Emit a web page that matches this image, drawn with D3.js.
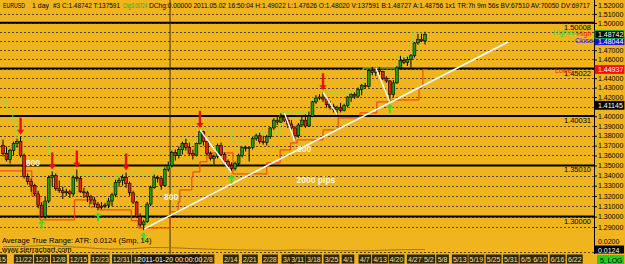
<!DOCTYPE html>
<html>
<head>
<meta charset="utf-8">
<script src="https://cdn.jsdelivr.net/npm/d3@7"></script>
<style>
  body { margin: 0; background: #F0B41E; }
  svg { display: block; }
  text { font-family: "Liberation Sans", Arial, sans-serif; }
</style>
</head>
<body>
<svg id="chart" width="625" height="264"></svg>
<script>
// EURUSD daily bars, 2010-11-15 .. 2011-05-02 (bar index 0..120)
const opens = [
  1.3700,1.3620,1.3560,1.3650,1.3720,1.3740,1.3600,1.3390,1.3340,1.3300,1.3220,1.3110,
  1.3000,1.3150,1.3380,1.3400,1.3270,1.3250,1.3230,1.3240,1.3220,1.3380,1.3370,1.3240,
  1.3230,1.3190,1.3160,1.3120,1.3090,1.3100,1.3110,1.3150,1.3210,1.3330,1.3350,1.3380,
  1.3320,1.3230,1.3140,1.3000,1.2920,1.2950,1.3120,1.3280,1.3380,1.3370,1.3300,1.3460,
  1.3500,1.3630,1.3600,1.3660,1.3720,1.3680,1.3620,1.3600,1.3720,1.3840,1.3740,1.3620,
  1.3570,1.3590,1.3700,1.3610,1.3540,1.3500,1.3470,1.3520,1.3600,1.3680,1.3670,1.3680,
  1.3770,1.3800,1.3740,1.3730,1.3790,1.3880,1.3960,1.3940,1.3990,1.3960,1.3920,1.3880,
  1.3800,1.3910,1.3960,1.3900,1.4000,1.4150,1.4190,1.4200,1.4180,1.4120,1.4100,1.4070,
  1.4090,1.4060,1.4110,1.4200,1.4230,1.4210,1.4280,1.4320,1.4310,1.4480,1.4460,1.4490,
  1.4470,1.4400,1.4370,1.4230,1.4350,1.4510,1.4590,1.4570,1.4600,1.4640,1.4780,1.4820,
  1.48020
];
const highs = [
  1.3760,1.3690,1.3670,1.3740,1.3770,1.3790,1.3620,1.3420,1.3370,1.3320,1.3250,1.3140,
  1.3190,1.3400,1.3440,1.3420,1.3350,1.3290,1.3270,1.3260,1.3400,1.3460,1.3390,1.3280,
  1.3250,1.3210,1.3190,1.3140,1.3140,1.3130,1.3180,1.3230,1.3360,1.3380,1.3410,1.3430,
  1.3340,1.3250,1.3150,1.3030,1.2970,1.3140,1.3300,1.3410,1.3400,1.3390,1.3480,1.3540,
  1.3650,1.3660,1.3690,1.3740,1.3770,1.3730,1.3660,1.3730,1.3860,1.3850,1.3750,1.3640,
  1.3610,1.3720,1.3730,1.3630,1.3560,1.3530,1.3540,1.3620,1.3690,1.3700,1.3690,1.3790,
  1.3820,1.3830,1.3800,1.3810,1.3890,1.3980,1.3990,1.4030,1.4035,1.3990,1.3960,1.3900,
  1.3930,1.4000,1.4020,1.4050,1.4160,1.4220,1.4230,1.4250,1.4200,1.4160,1.4130,1.4110,
  1.4140,1.4130,1.4210,1.4240,1.4250,1.4300,1.4340,1.4350,1.4490,1.4520,1.4510,1.4520,
  1.4480,1.4420,1.4380,1.4380,1.4530,1.4640,1.4620,1.4630,1.4660,1.4790,1.4880,1.4880,
  1.49022
];
const lows = [
  1.3590,1.3540,1.3520,1.3600,1.3680,1.3580,1.3370,1.3310,1.3240,1.3200,1.3080,1.2990,
  1.2980,1.3130,1.3290,1.3250,1.3230,1.3170,1.3200,1.3180,1.3200,1.3340,1.3230,1.3180,
  1.3140,1.3120,1.3090,1.3060,1.3070,1.3080,1.3080,1.3100,1.3190,1.3290,1.3300,1.3280,
  1.3200,1.3120,1.2990,1.2900,1.2870,1.2940,1.3100,1.3270,1.3330,1.3260,1.3290,1.3440,
  1.3480,1.3550,1.3570,1.3610,1.3650,1.3600,1.3560,1.3590,1.3710,1.3700,1.3600,1.3550,
  1.3510,1.3570,1.3600,1.3520,1.3470,1.3430,1.3450,1.3500,1.3580,1.3640,1.3540,1.3660,
  1.3750,1.3720,1.3710,1.3700,1.3770,1.3860,1.3910,1.3930,1.3940,1.3880,1.3860,1.3750,
  1.3780,1.3890,1.3880,1.3890,1.3990,1.4130,1.4170,1.4150,1.4090,1.4070,1.4040,1.4020,
  1.4040,1.4050,1.4090,1.4150,1.4180,1.4190,1.4220,1.4290,1.4300,1.4430,1.4420,1.4430,
  1.4380,1.4350,1.4150,1.4200,1.4340,1.4500,1.4550,1.4530,1.4510,1.4620,1.4760,1.4790,
  1.47626
];
const closes = [
  1.3620,1.3560,1.3650,1.3720,1.3740,1.3600,1.3390,1.3340,1.3300,1.3220,1.3110,1.3000,
  1.3150,1.3380,1.3400,1.3270,1.3250,1.3230,1.3240,1.3220,1.3380,1.3370,1.3240,1.3230,
  1.3190,1.3160,1.3120,1.3090,1.3100,1.3110,1.3150,1.3210,1.3330,1.3350,1.3380,1.3320,
  1.3230,1.3140,1.3000,1.2920,1.2950,1.3120,1.3280,1.3380,1.3370,1.3300,1.3460,1.3500,
  1.3630,1.3600,1.3660,1.3720,1.3680,1.3620,1.3600,1.3720,1.3840,1.3740,1.3620,1.3570,
  1.3590,1.3700,1.3610,1.3540,1.3500,1.3470,1.3520,1.3600,1.3680,1.3670,1.3680,1.3770,
  1.3800,1.3740,1.3730,1.3790,1.3880,1.3960,1.3940,1.3990,1.3960,1.3920,1.3880,1.3800,
  1.3910,1.3960,1.3900,1.4000,1.4150,1.4190,1.4200,1.4180,1.4120,1.4100,1.4070,1.4090,
  1.4060,1.4110,1.4200,1.4230,1.4210,1.4280,1.4320,1.4310,1.4480,1.4460,1.4490,1.4470,
  1.4400,1.4370,1.4230,1.4350,1.4510,1.4590,1.4570,1.4600,1.4640,1.4780,1.4820,1.4802,
  1.48742
];

// x axis date labels and the bar index they sit on
const dateLabels = ["11/15","11/22","12/1","12/8","12/15","12/23","12/31","1/7","2/3","2/8","2/14","2/21",
  "2/28","3/6","3/11","3/18","3/25","4/1","4/7","4/13","4/20","4/27","5/2","5/8","5/13","5/19","5/25",
  "5/31","6/5","6/10","6/16","6/22"];
const dateIdx = [-1.6,5.8,11.1,15.9,21.5,27.6,33.7,38.4,54.7,58.3,64.8,70.2,
  75.9,81.0,83.8,88.4,93.4,98.1,102.9,107.2,111.9,117.1,121.1,125.0,129.9,134.6,139.5,
  144.4,148.7,152.7,157.7,162.6];

// price scale ticks (log scale)
const priceTicks = [1.29,1.30,1.31,1.32,1.33,1.34,1.35,1.36,1.37,1.38,1.39,1.40,1.41,1.42,
  1.43,1.44,1.45,1.46,1.47,1.48,1.49,1.50,1.51,1.52];
// drawn horizontal levels
const keyLevels = [1.30000,1.35010,1.40031,1.45022,1.50008];

// swing markers
const swingHighIdx = [5,14,21,35,56,91];
const swingLowIdx = [11,27,40,65,110];
// white swing legs: from high of first bar to low of second
const swingLegs = [[56,65],[80,83],[91,95],[106,110]];
// long trend line
const trendIdx = [40,143.6];
const trendPrice = [1.2880,1.4790];

// step lines: [start bar, level]
const highestSteps = [[-1,1.4170],[1.1,1.4070],[2.8,1.3960],[4,1.3778],[12.8,1.3626],[14,1.3416],
  [28.4,1.3357],[30.4,1.3288],[32.4,1.3416],[43.2,1.3476],[47.5,1.3536],[48.3,1.3626],[49.8,1.3656],
  [52.3,1.3758],[56,1.3860],[65.4,1.3737],[70.8,1.3788],[72.5,1.3829],[78.8,1.4035],[88.1,1.4191],
  [91,1.4254],[102.4,1.4508],[112.3,1.4637],[116.6,1.4902],[120.5,1.4902]];
const lowestSteps = [[-1,1.3446],[5.4,1.3446],[8.2,1.3200],[10.5,1.2968],[20.3,1.3161],[24.6,1.3093],
  [27.6,1.3064],[36.5,1.2960],[38.4,1.2891],[47.5,1.3045],[49.8,1.3141],[50.3,1.3258],[53.7,1.3386],
  [54,1.3436],[56,1.3536],[58,1.3626],[65.4,1.3416],[70.2,1.3416],[75,1.3526],[78.8,1.3656],
  [81.8,1.3727],[83.6,1.3758],[91,1.3860],[95.3,1.3983],[101.5,1.4035],[106.3,1.4149],[110.6,1.4170],
  [118.3,1.4306],[119.4,1.44937],[120.5,1.44937]];

// ATR(14) readings (bar index, value)
const atrIdx = [0,6,12,18,24,30,36,42,48,54,60,66,72,78,84,90,96,102,108,114,120];
const atrVals = [0.0150,0.0152,0.0160,0.0150,0.0140,0.0128,0.0130,0.0142,0.0140,0.0132,0.0125,
  0.0120,0.0118,0.0115,0.0120,0.0117,0.0113,0.0112,0.0118,0.0122,0.0124];

// text annotations placed on the chart (bar index, price)
const notes = [
  {text:"800", i:8.5, p:1.3526},
  {text:"800", i:47.8, p:1.3190},
  {text:"800", i:85.6, p:1.3670},
  {text:"2000 pips", i:89, p:1.3357}
];

// header pieces: text, left x, width
const headerParts = [
  {t:"EURUSD", x:3, w:22, c:"#000"},
  {t:"1 day", x:32, w:17, c:"#000"},
  {t:"#3 C:1.48742 T:137591", x:53, w:67, c:"#000"},
  {t:"Chg:0.00724", x:123, w:24, c:"#10B010"},
  {t:"DChg:0.00000 2011.05.02 16:50:04 H:1.49022 L:1.47626 O:1.48020 V:137591 B:1.48727 A:1.48756 1x1 TR:7h 9m 56s BV:67510 AV:70050 DV:69717", x:149, w:441, c:"#000"}
];

const svg = d3.select("#chart");
const W = 625, H = 264;
const plotRight = 594;

const x = d3.scaleLinear().domain([0,120]).range([3,425]);
const y = d3.scaleLog().domain([1.29,1.52]).range([227,5]);
const yAtr = d3.scaleLinear().domain([0.0124,0.0200]).range([249.5,241]);

svg.append("rect").attr("width",W).attr("height",H).attr("fill","#F0B41E");

// dotted grid (the top tick sits under the header, so no line there)
svg.append("g").selectAll("line")
  .data(priceTicks.filter(d => d < 1.515))
  .enter().append("line")
  .attr("x1",0).attr("x2",plotRight)
  .attr("y1",d => Math.round(y(d))+0.5).attr("y2",d => Math.round(y(d))+0.5)
  .attr("stroke","#5a4308").attr("stroke-width",1).attr("stroke-dasharray","2,2");

// heavy levels
svg.append("g").selectAll("line")
  .data(keyLevels)
  .enter().append("line")
  .attr("x1",0).attr("x2",plotRight)
  .attr("y1",d => y(d)).attr("y2",d => y(d))
  .attr("stroke","#000").attr("stroke-width",2);
svg.append("g").selectAll("text")
  .data(keyLevels)
  .enter().append("text")
  .attr("x",plotRight-3).attr("y",d => y(d)+7)
  .attr("text-anchor","end")
  .style("font-size","7.5px").style("fill","#000")
  .text(d => d.toFixed(5));

// cursor line
const cursorIdx = 47.5;
svg.append("line")
  .attr("x1",x(cursorIdx)).attr("x2",x(cursorIdx)).attr("y1",0).attr("y2",254)
  .attr("stroke","#3a2a00").attr("stroke-width",1);

// step lines
function stepPath(steps){
  return d3.line()
    .x(d => x(d[0])).y(d => y(d[1]))
    .curve(d3.curveStepAfter)(steps);
}
svg.append("path").attr("d",stepPath(lowestSteps))
  .attr("fill","none").attr("stroke","#F03A10").attr("stroke-width",1);
svg.append("path").attr("d",stepPath(highestSteps))
  .attr("fill","none").attr("stroke","#8EDC48").attr("stroke-width",1);

// trend line
svg.append("line")
  .attr("x1",x(trendIdx[0])).attr("y1",y(trendPrice[0]))
  .attr("x2",x(trendIdx[1])).attr("y2",y(trendPrice[1]))
  .attr("stroke","#fff").attr("stroke-width",1.6);

// candles
const bars = d3.range(opens.length);
const candle = svg.append("g").selectAll("g")
  .data(bars).enter().append("g");
candle.append("line")
  .attr("x1",i => x(i)).attr("x2",i => x(i))
  .attr("y1",i => y(highs[i])).attr("y2",i => y(lows[i]))
  .attr("stroke","#000").attr("stroke-width",1);
candle.append("rect")
  .attr("x",i => x(i)-1.4).attr("width",2.8)
  .attr("y",i => y(Math.max(opens[i],closes[i])))
  .attr("height",i => Math.max(1,Math.abs(y(opens[i])-y(closes[i]))))
  .attr("fill",i => closes[i] >= opens[i] ? "#18A018" : "#E8201A")
  .attr("stroke","#000").attr("stroke-width",0.6);

// swing legs
svg.append("g").selectAll("line")
  .data(swingLegs).enter().append("line")
  .attr("x1",d => x(d[0])).attr("y1",d => y(highs[d[0]]))
  .attr("x2",d => x(d[1])).attr("y2",d => y(lows[d[1]]))
  .attr("stroke","#fff").attr("stroke-width",1.4);

// arrows
const downArrow = svg.append("g").selectAll("g")
  .data(swingHighIdx).enter().append("g")
  .attr("transform",i => `translate(${x(i)},${y(highs[i])-2})`);
downArrow.append("rect").attr("x",-1.2).attr("y",-17).attr("width",2.4).attr("height",13).attr("fill","#F01010");
downArrow.append("path").attr("d","M-3.5,-5 L3.5,-5 L0,0 Z").attr("fill","#F01010");

const upArrow = svg.append("g").selectAll("g")
  .data(swingLowIdx).enter().append("g")
  .attr("transform",i => `translate(${x(i)},${y(lows[i])+2})`);
upArrow.append("rect").attr("x",-1).attr("y",3).attr("width",2).attr("height",6).attr("fill","#30E030");
upArrow.append("path").attr("d","M-3.5,4 L3.5,4 L0,0 Z").attr("fill","#30E030");

// annotations
svg.append("g").selectAll("text")
  .data(notes).enter().append("text")
  .attr("x",d => x(d.i)).attr("y",d => y(d.p)+3)
  .attr("text-anchor","middle")
  .style("font-size","8.5px").style("font-weight","bold").style("fill","#FFF6D8")
  .text(d => d.text);

// right-side study labels
const sideLabels = [
  {t:"Highest", x:553, y:35, c:"#40D040"},
  {t:"High", x:577, y:36, c:"#F02020"},
  {t:"Close", x:575, y:43, c:"#2020F0"},
  {t:"Lowe", x:555, y:73, c:"#F02020"}
];
svg.append("g").selectAll("text")
  .data(sideLabels).enter().append("text")
  .attr("x",d => d.x).attr("y",d => d.y)
  .style("font-size","7px").style("fill",d => d.c)
  .text(d => d.t);

// right axis
const yAxis = d3.axisRight(y).tickValues(priceTicks).tickSize(3).tickFormat(d3.format(".5f"));
const ga = svg.append("g").attr("transform",`translate(${plotRight},0)`).call(yAxis);
ga.select(".domain").remove();
ga.selectAll("line").attr("stroke","#000");
ga.selectAll("text").attr("x",4).style("font-size","7px").style("fill","#000")
  .style("font-family","Liberation Sans, Arial, sans-serif");
svg.append("line").attr("x1",plotRight+0.5).attr("x2",plotRight+0.5).attr("y1",0).attr("y2",254)
  .attr("stroke","#000");

// value boxes on the axis
const valueBoxes = [
  {v:1.48044, bg:"#1010E0", fg:"#fff", border:"#1010E0"},
  {v:closes[120], bg:"#000", fg:"#fff", border:"#20E020"},
  {v:1.44937, bg:"#F01010", fg:"#fff", border:"#F01010"},
  {v:1.41145, bg:"#000", fg:"#fff", border:"#000"}
];
const vb = svg.append("g").selectAll("g")
  .data(valueBoxes).enter().append("g")
  .attr("transform",d => `translate(${plotRight+1},${y(d.v)})`);
vb.append("rect").attr("x",0).attr("y",-4).attr("width",29).attr("height",8)
  .attr("fill",d => d.bg).attr("stroke",d => d.border).attr("stroke-width",0.8);
vb.append("text").attr("x",3).attr("y",3).style("font-size","7px").style("fill",d => d.fg)
  .text(d => d.v.toFixed(5));

// ATR study
svg.append("path")
  .attr("d",d3.line().x((d,i) => x(atrIdx[i])).y(d => yAtr(d)).curve(d3.curveMonotoneX)(atrVals))
  .attr("fill","none").attr("stroke","#A07810").attr("stroke-width",1);
svg.append("line").attr("x1",0).attr("x2",plotRight).attr("y1",252.5).attr("y2",252.5)
  .attr("stroke","#5a4308").attr("stroke-dasharray","2,2");
svg.append("text").attr("x",2).attr("y",243).style("font-size","7.5px").style("fill","#000")
  .text("Average True Range:  ATR: 0.0124   (Smp, 14)");
svg.append("text").attr("x",2).attr("y",252).style("font-size","7.5px").style("fill","#000")
  .text("www.sierrachart.com");
svg.append("text").attr("x",plotRight+4).attr("y",243.5).style("font-size","7px").text("0.0200");
const atrBox = svg.append("g").attr("transform",`translate(${plotRight+1},${yAtr(0.0124)})`);
atrBox.append("rect").attr("y",-4).attr("width",29).attr("height",8).attr("fill","#000");
atrBox.append("text").attr("x",3).attr("y",3).style("font-size","7px").style("fill","#fff").text("0.0124");

// date axis
const dl = svg.append("g").selectAll("g")
  .data(dateLabels).enter().append("g")
  .attr("transform",(d,i) => `translate(${x(dateIdx[i])},259)`);
dl.append("rect").attr("x",d => -d.length*1.6-1.5).attr("y",-4.5)
  .attr("width",d => d.length*3.2+3).attr("height",9).attr("fill","#2E2400");
dl.append("text").attr("text-anchor","middle").attr("y",3)
  .style("font-size","7px").style("fill","#F2E2A0").text(d => d);
// cursor date
const cd = svg.append("g").attr("transform",`translate(${x(cursorIdx)},259)`);
cd.append("rect").attr("x",-30).attr("y",-4.5).attr("width",60).attr("height",9).attr("fill","#1a1400");
cd.append("text").attr("text-anchor","middle").attr("y",3).style("font-size","7px").style("fill","#fff")
  .text("2011-01-20  00:00:00");
// scale mode box
svg.append("rect").attr("x",597).attr("y",255).attr("width",27).attr("height",9).attr("fill","#20D020");
svg.append("text").attr("x",600).attr("y",262.5).style("font-size","7px").style("fill","#000").text("5, LOG");

// header
svg.append("g").selectAll("text")
  .data(headerParts).enter().append("text")
  .attr("x",d => d.x).attr("y",8)
  .attr("textLength",d => d.w).attr("lengthAdjust","spacingAndGlyphs")
  .style("font-size","7.5px").style("fill",d => d.c)
  .text(d => d.t);
</script>
</body>
</html>
